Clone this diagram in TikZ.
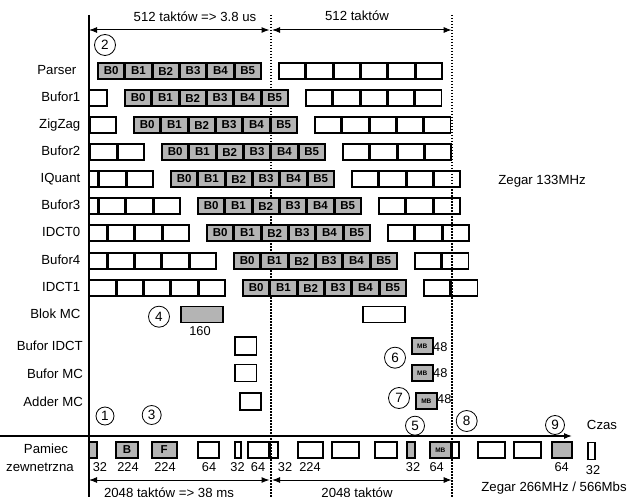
\documentclass[tikz,border=0pt]{standalone}
\usepackage{fontspec}
\setmainfont{Liberation Sans}
\usetikzlibrary{arrows.meta}
\definecolor{gfill}{RGB}{180,180,180}
\newcommand\mbrow[6]{%
  \node[lbl] (lab#1) at (#6,#2) {#5};
  \foreach \i in {0,...,5}{%
    \pgfmathsetmacro\xa{#3+\i*27.33}%
    \node[gblk, minimum width=26.2pt] (#1g\i) at (\xa,#2) {B\i};
  }
  \foreach \i in {1,...,#4}{%
    \pgfmathsetmacro\xa{#3+181+(\i-1)*27.33}%
    \node[wblk, minimum width=26.2pt] (#1n\i) at (\xa,#2) {};
  }
  \foreach \i in {0,...,5}{%
    \pgfmathsetmacro\xa{#3-181+\i*27.33}%
    \pgfmathsetmacro\xb{\xa+26.2}%
    \pgfmathtruncatemacro\ok{\xb>91}%
    \ifnum\ok=1
      \pgfmathsetmacro\xl{max(\xa,89)}%
      \pgfmathsetmacro\ww{\xb-\xl}%
      \node[wblk, minimum width=\ww pt] (#1p\i) at (\xl,#2) {};
    \fi
  }
}
\newcommand\memblk[5]{%
  \pgfmathsetmacro\ww{#3-#2}%
  \node[#4, minimum width=\ww pt] (#1) at (#2,450) {#5};
}
\begin{document}
\begin{tikzpicture}[x=1pt,y=-1pt,
  blk/.style={draw=black, line width=1.8pt, rectangle, inner sep=0pt, outer sep=0pt,
    minimum height=16pt, anchor=west, font=\fontsize{11.5}{12}\selectfont\bfseries},
  gblk/.style={blk, fill=gfill},
  wblk/.style={blk},
  lbl/.style={anchor=east, font=\fontsize{13.2}{15}\selectfont, inner sep=0pt,
    text height=9.5pt, text depth=2.7pt},
  num/.style={font=\fontsize{12.8}{14}\selectfont, inner sep=0pt},
  txt/.style={font=\fontsize{13.2}{15}\selectfont, inner sep=0pt},
  circ/.style={circle, draw, line width=0.8pt, minimum size=21pt, inner sep=0pt,
    font=\fontsize{13.5}{15}\selectfont},
  mbf/.style={font=\fontsize{6.5}{7}\selectfont\bfseries},
  dim/.style={line width=1pt, {Latex[length=8pt,width=6pt]}-{Latex[length=8pt,width=6pt]}},
  dotln/.style={line width=1.6pt, dash pattern=on 1.5pt off 1.5pt},
]
\useasboundingbox (0,0) rectangle (629,497);

% axes and dotted separators
\coordinate (axT) at (89,15); \coordinate (axB) at (89,497);
\coordinate (d1T) at (270.7,15); \coordinate (d1B) at (270.7,497);
\coordinate (d2T) at (451.7,15); \coordinate (d2B) at (451.7,497);
\draw[line width=1.2pt] (axT) -- (axB);
\draw[dotln] (d1T) -- (d1B);
\draw[dotln] (d2T) -- (d2B);

% top dimension arrows
\coordinate (ta1) at (89,30); \coordinate (ta2) at (269.5,30);
\coordinate (ta3) at (272,30); \coordinate (ta4) at (451.7,30);
\draw[dim] (ta1) -- (ta2);
\draw[dim] (ta3) -- (ta4);
\node[txt] (t1) at (195,17) {512 taktów => 3.8 us};
\node[txt] (t2) at (357,16) {512 taktów};

% pipeline rows
\mbrow{par}{71}{98}{6}{Parser}{76.5}
\mbrow{bf1}{98}{125}{5}{Bufor1}{80.5}
\mbrow{zz}{125}{134}{5}{ZigZag}{80.5}
\mbrow{bf2}{152}{162}{4}{Bufor2}{80.5}
\mbrow{iq}{179}{171}{4}{IQuant}{80.5}
\mbrow{bf3}{206}{198}{3}{Bufor3}{80.5}
\mbrow{id0}{233}{207}{3}{IDCT0}{80.5}
\mbrow{bf4}{261}{234}{2}{Bufor4}{80.5}
\mbrow{id1}{288}{243}{2}{IDCT1}{80.5}

\node[txt] (zeg1) at (542,181) {Zegar 133MHz};

% MC rows
\node[lbl] (labmc) at (80.5,315) {Blok MC};
\node[lbl] (labbi) at (83,347) {Bufor IDCT};
\node[lbl] (labbm) at (83,375) {Bufor MC};
\node[lbl] (labad) at (83,403) {Adder MC};

\node[gblk, minimum width=42pt] (mc1) at (181,314.5) {};
\node[num] (n160) at (200,331) {160};
\node[wblk, minimum width=42pt] (mc2) at (363,314.5) {};
\node[wblk, minimum width=21.5pt, minimum height=17.5pt] (bi1) at (235,346) {};
\node[wblk, minimum width=21.5pt, minimum height=17pt] (bm1) at (235,373) {};
\node[wblk, minimum width=21pt, minimum height=17pt] (ad1) at (240,401.5) {};
\node[gblk, minimum width=21pt, mbf] (bi2) at (411.7,346.3) {MB};
\node[num, anchor=west] (n48a) at (433,346.7) {48};
\node[gblk, minimum width=21pt, mbf] (bm2) at (411.7,373.3) {MB};
\node[num, anchor=west] (n48b) at (433,373.5) {48};
\node[gblk, minimum width=20.7pt, mbf] (ad2) at (416,401) {MB};
\node[num, anchor=west] (n48c) at (437,399.5) {48};

% circled numbers
\node[circ] (c2) at (105,45) {2};
\node[circ] (c4) at (159,316.7) {4};
\node[circ] (c6) at (395,357.7) {6};
\node[circ] (c7) at (399,398) {7};
\node[circ, minimum size=19pt] (c5) at (415,425.7) {5};
\node[circ] (c8) at (466.7,421) {8};
\node[circ, minimum size=19pt] (c9) at (555,425) {9};
\node[circ, minimum size=18pt] (c1) at (105,416) {1};
\node[circ, minimum size=19pt] (c3) at (151.7,415) {3};

% time axis
\coordinate (cz0) at (0,436); \coordinate (cz1) at (572,436);
\draw[line width=1.2pt, -{Latex[length=8pt,width=6pt]}] (cz0) -- (cz1);
\node[txt] (czas) at (602,425) {Czas};

% memory row
\node[txt] (pam1) at (46,449) {Pamiec};
\node[txt] (pam2) at (40,467) {zewnetrzna};
\memblk{m1}{89.3}{97.3}{gblk}{}
\memblk{m2}{116}{138.3}{gblk}{B}
\memblk{m3}{151.7}{176.7}{gblk}{F}
\memblk{m4}{198.3}{219.3}{wblk}{}
\memblk{m5}{235}{241}{wblk}{}
\memblk{m6}{248.3}{269.3}{wblk}{}
\memblk{m7}{270}{278}{wblk}{}
\memblk{m8}{297.7}{322.7}{wblk}{}
\memblk{m9}{332.3}{359.3}{wblk}{}
\memblk{m10}{375}{396.7}{wblk}{}
\memblk{m11}{407.3}{415}{gblk}{}
\node[gblk, minimum width=20.7pt, mbf] (m12) at (430,450) {MB};
\memblk{m13}{451.7}{459.3}{wblk}{}
\memblk{m14}{478.3}{505}{wblk}{}
\memblk{m15}{514}{540.7}{wblk}{}
\memblk{m16}{551.7}{571.7}{gblk}{}
\node[wblk, minimum width=6.7pt, minimum height=17pt] (m17) at (588.3,451) {};

\node[num] (q1) at (100,467) {32};
\node[num] (q2) at (128,467) {224};
\node[num] (q3) at (165,467) {224};
\node[num] (q4) at (209,467) {64};
\node[num] (q5) at (237.5,467) {32};
\node[num] (q6) at (258,467) {64};
\node[num] (q7) at (285,467) {32};
\node[num] (q8) at (310,467) {224};
\node[num] (q9) at (413,467) {32};
\node[num] (q10) at (436.7,467) {64};
\node[num] (q11) at (561.7,467) {64};
\node[num] (q12) at (593,470) {32};

% bottom dimension arrows
\coordinate (ba1) at (89,480); \coordinate (ba2) at (269.5,480);
\coordinate (ba3) at (272,480); \coordinate (ba4) at (451.7,480);
\draw[dim] (ba1) -- (ba2);
\draw[dim] (ba3) -- (ba4);
\node[txt, anchor=base] (b1) at (169,497) {2048 taktów => 38 ms};
\node[txt, anchor=base] (b2) at (357,497) {2048 taktów};
\node[txt] (zeg2) at (554,488) {Zegar 266MHz / 566Mbs};
\end{tikzpicture}
\end{document}
